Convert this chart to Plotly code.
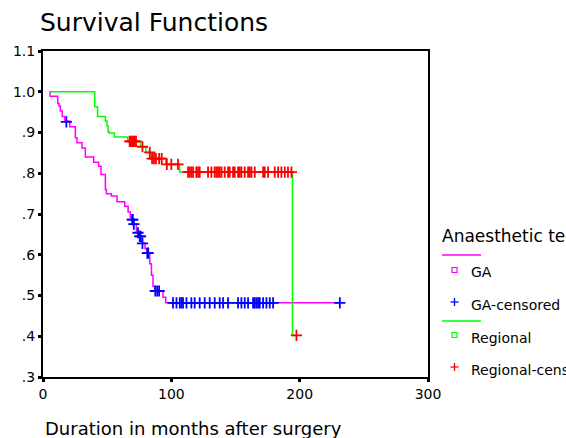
import plotly.graph_objects as go

# ---- data ----
ga_step_t = [5.0, 5.5, 11.5, 12.5, 13.5, 15.0, 17.0, 20.8, 25.2, 26.5, 30.4, 33.0, 39.5, 43.4,
             45.2, 48.6, 49.4, 53.3, 57.7, 63.7, 66.3, 68.0, 69.0, 70.5, 72.8, 75.0, 77.0,
             79.5, 81.0, 83.2, 84.5, 85.7, 87.0, 93.5, 95.6, 231.5]
ga_step_s = [1.000, 0.989, 0.971, 0.965, 0.953, 0.939, 0.928, 0.914, 0.887, 0.875, 0.862, 0.840,
             0.827, 0.817, 0.797, 0.760, 0.750, 0.744, 0.730, 0.719, 0.705, 0.692, 0.686, 0.675,
             0.654, 0.645, 0.628, 0.615, 0.604, 0.578, 0.550, 0.523, 0.511, 0.496, 0.482, 0.482]

ga_cens_t = [18.2, 69.5, 70.0, 70.8, 74.0, 75.4, 76.0, 77.5, 81.3, 82.0, 87.5, 89.0, 90.5,
             101.3, 104.0, 106.6, 107.9, 109.1, 111.8, 115.6, 118.2, 122.1, 126.0, 129.9, 133.8,
             137.7, 140.3, 144.2, 152.0, 154.6, 157.2, 159.8, 163.7, 165.0, 166.3, 167.6, 168.9,
             171.5, 174.1, 176.7, 179.3, 231.3]
ga_cens_s = [0.926, 0.686, 0.686, 0.675, 0.654, 0.645, 0.645, 0.628, 0.604, 0.604, 0.511, 0.511,
             0.511] + [0.482] * 29

reg_step_t = [5.0, 40.3, 42.5, 48.6, 49.9, 50.7, 51.5, 55.6, 66.0, 76.0, 80.2, 84.0, 95.6,
              106.5, 194.4, 197.5]
reg_step_s = [1.000, 0.963, 0.939, 0.928, 0.916, 0.902, 0.899, 0.889, 0.878, 0.865, 0.851, 0.836,
              0.822, 0.803, 0.402, 0.402]

reg_cens_t = [67.5, 68.5, 69.5, 70.5, 71.5, 72.5, 77.5, 83.2, 85.0, 86.5, 88.0, 90.5, 92.5,
              96.5, 100.0, 105.2,
              113.0, 114.3, 115.6, 116.9, 119.5, 120.8, 122.1, 128.6, 131.2, 133.8, 135.1, 136.4,
              137.7, 139.1, 141.6, 144.2, 145.5, 148.1, 149.4, 152.0, 153.3, 154.6, 157.2, 159.8,
              161.1, 162.4, 165.0, 171.5, 172.8, 175.4, 180.6, 183.2, 185.8, 188.4, 190.9, 193.6,
              197.5]
reg_cens_s = [0.878] * 6 + [0.865, 0.851] + [0.836] * 5 + [0.822] * 3 + [0.803] * 36 + [0.402]

x_ticks = [0, 100, 200, 300]
y_ticks = [0.3, 0.4, 0.5, 0.6, 0.7, 0.8, 0.9, 1.0, 1.1]
y_ticktext = [".3", ".4", ".5", ".6", ".7", ".8", ".9", "1.0", "1.1"]

legend_title = "Anaesthetic technique"
legend_labels = ["GA", "GA-censored", "Regional", "Regional-censored"]

C_GA, C_GA_C, C_REG, C_REG_C = "#FF00FF", "#0000FF", "#00FF00", "#FF0000"
FONT = "DejaVu Sans"

fig = go.Figure()
fig.add_trace(go.Scatter(x=ga_step_t, y=ga_step_s, mode="lines", line=dict(color=C_GA, width=1.5, shape="hv"),
                         showlegend=False, hoverinfo="skip"))
fig.add_trace(go.Scatter(x=reg_step_t, y=reg_step_s, mode="lines", line=dict(color=C_REG, width=1.5, shape="hv"),
                         showlegend=False, hoverinfo="skip"))
fig.add_trace(go.Scatter(x=ga_cens_t, y=ga_cens_s, mode="markers",
                         marker=dict(symbol="cross-thin-open", size=8, color=C_GA_C,
                                     line=dict(color=C_GA_C, width=1.8)),
                         showlegend=False))
fig.add_trace(go.Scatter(x=reg_cens_t, y=reg_cens_s, mode="markers",
                         marker=dict(symbol="cross-thin-open", size=8, color=C_REG_C,
                                     line=dict(color=C_REG_C, width=1.8)),
                         showlegend=False))

W, H = 566, 438
L, R, T, B = 43, 138, 51, 61
pw, ph = W - L - R, H - T - B


def px(x):
    return (x - L) / pw


def py(y):
    return (H - B - y) / ph


annotations = [
    dict(text="Duration in months after surgery", x=0, y=py(428), xref="paper", yref="paper",
         xanchor="left", yanchor="middle", showarrow=False, font=dict(size=18, color="black", family=FONT)),
    dict(text=legend_title, x=px(440), y=py(236), xref="paper", yref="paper",
         xanchor="left", yanchor="middle", showarrow=False, font=dict(size=17, color="black", family=FONT)),
]
for lab, yy in zip(legend_labels, [272, 305, 338, 370]):
    annotations.append(dict(text=lab, x=px(469), y=py(yy), xref="paper", yref="paper",
                            xanchor="left", yanchor="middle", showarrow=False,
                            font=dict(size=14, color="black", family=FONT)))

shapes = []
for col, yy in [(C_GA, 255), (C_REG, 321)]:
    shapes.append(dict(type="line", xref="paper", yref="paper", x0=px(442), x1=px(481), y0=py(yy), y1=py(yy),
                       line=dict(color=col, width=1.5)))
for col, yy in [(C_GA, 270), (C_REG, 335)]:
    shapes.append(dict(type="rect", xref="paper", yref="paper", xsizemode="pixel", ysizemode="pixel",
                       xanchor=px(454.5), yanchor=py(yy), x0=-2.5, x1=2.5, y0=-2.5, y1=2.5,
                       line=dict(color=col, width=1.2), fillcolor="white"))
for col, yy in [(C_GA_C, 302), (C_REG_C, 367)]:
    shapes.append(dict(type="line", xref="paper", yref="paper", xsizemode="pixel", ysizemode="pixel",
                       xanchor=px(454.5), yanchor=py(yy), x0=-4, x1=4, y0=0, y1=0,
                       line=dict(color=col, width=1.3)))
    shapes.append(dict(type="line", xref="paper", yref="paper", xsizemode="pixel", ysizemode="pixel",
                       xanchor=px(454.5), yanchor=py(yy), x0=0, x1=0, y0=-4, y1=4,
                       line=dict(color=col, width=1.3)))

fig.update_layout(
    width=W, height=H, autosize=False,
    margin=dict(l=L, r=R, t=T, b=B, pad=0),
    paper_bgcolor="white", plot_bgcolor="white",
    font=dict(family=FONT, color="black", size=14),
    title=dict(text="Survival Functions", x=40 / W, xanchor="left", xref="container",
               y=1 - 22 / H, yanchor="middle", yref="container",
               font=dict(size=25, color="black", family=FONT)),
    xaxis=dict(range=[0, 300], tickvals=x_ticks, ticks="outside", ticklen=3, tickwidth=3, tickcolor="black",
               showgrid=False, zeroline=False, showline=True, linecolor="black", linewidth=2, mirror=True,
               tickfont=dict(size=14, color="black", family=FONT)),
    yaxis=dict(range=[0.3, 1.1], tickvals=y_ticks, ticktext=y_ticktext, ticks="outside", ticklen=3, tickwidth=3,
               tickcolor="black", showgrid=False, zeroline=False, showline=True, linecolor="black", linewidth=2,
               mirror=True, tickfont=dict(size=14, color="black", family=FONT)),
    annotations=annotations,
    shapes=shapes,
    showlegend=False,
)

fig.write_html("out.html", config={"displayModeBar": False},
               post_script="document.body.style.margin='0px';")
